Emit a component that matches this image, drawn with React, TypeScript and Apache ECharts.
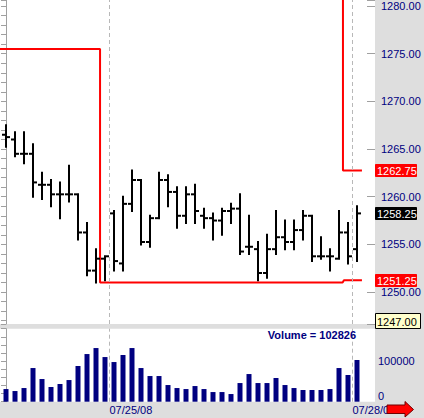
import React, { useEffect, useRef } from 'react';
import * as echarts from 'echarts';

// ---- data ----
const opens = [1266.5, 1266.0, 1264.5, 1264.5, 1261.25, 1261.25, 1260.25, 1260.25, 1260.25, 1256.25,
  1252.25, 1253.5, 1258.25, 1253.0, 1259.25, 1261.75, 1255.25, 1257.75, 1261.75, 1260.5,
  1258.0, 1260.25, 1258.0, 1257.75, 1257.5, 1258.5, 1258.75, 1254.75, 1254.5, 1252.0,
  1254.5, 1255.75, 1255.25, 1256.5, 1258.0, 1253.75, 1253.75, 1253.5, 1256.25, 1254.5];
const highs = [1267.5, 1266.75, 1266.75, 1265.5, 1262.5, 1261.75, 1261.5, 1263.25, 1260.25, 1257.25,
  1254.5, 1253.75, 1258.5, 1260.0, 1262.75, 1261.75, 1258.0, 1262.5, 1262.25, 1261.0,
  1261.0, 1261.25, 1258.75, 1258.25, 1258.75, 1259.25, 1260.25, 1258.0, 1255.25, 1256.0,
  1258.5, 1257.5, 1257.5, 1258.5, 1258.0, 1255.75, 1254.5, 1258.5, 1257.25, 1259.0];
const lows = [1265.25, 1264.25, 1263.5, 1260.0, 1259.75, 1259.0, 1257.75, 1259.5, 1255.5, 1251.75,
  1251.0, 1251.25, 1252.25, 1252.25, 1258.5, 1255.0, 1254.75, 1257.75, 1259.0, 1256.75,
  1257.25, 1257.25, 1256.75, 1255.5, 1256.0, 1257.25, 1254.0, 1254.0, 1251.25, 1251.5,
  1254.0, 1254.5, 1254.5, 1255.5, 1253.25, 1253.5, 1252.25, 1253.5, 1253.0, 1253.25];
const closes = [1266.25, 1264.5, 1264.5, 1261.5, 1261.25, 1260.25, 1260.25, 1260.25, 1256.25, 1252.25,
  1253.5, 1253.75, 1253.25, 1259.25, 1261.75, 1255.25, 1257.75, 1261.75, 1260.5, 1258.0,
  1260.25, 1258.5, 1257.75, 1257.5, 1258.5, 1258.75, 1254.25, 1254.75, 1252.0, 1254.5,
  1255.75, 1255.25, 1256.5, 1258.0, 1253.75, 1253.75, 1253.75, 1256.25, 1253.75, 1258.25];
const volumes = [31200, 26300, 33700, 83000, 55900, 36200, 43600, 53400, 88000, 117500,
  132300, 110100, 97800, 115100, 132300, 83000, 63300, 63300, 41100, 33700,
  31200, 38600, 31200, 23800, 23800, 18900, 46000, 68200, 46000, 46000,
  58400, 41100, 33700, 28800, 28800, 28800, 31200, 83000, 65800, 102826];

// stop lines (bar-index position, price)
const stopLowX = [-0.7, 10.45, 10.45, 37.4, 37.55, 39.55];
const stopLowY = [1275.5, 1275.5, 1251.0, 1251.0, 1251.25, 1251.25];
const stopHighX = [37.44, 37.44, 39.55];
const stopHighY = [1290, 1262.75, 1262.75];

const dateTickPos = [11.5, 38.5];
const dateTickLabels = ['07/25/08', '07/28/08'];

const upperStopValue = 1262.75;
const lowerStopValue = 1251.25;
const lastPriceValue = 1258.25;
const cursorPriceValue = 1247.0;
const lastVolume = 102826;

// ---- layout ----
const priceMin = 1246.65;
const priceMax = 1280.63;
const xMin = -2 / 3;
const xMax = 41;
const FONT = '"Liberation Sans", Arial, sans-serif';
const NAVY = '#000080';
const AXIS_GRAY = '#a0a0a0';

export default function App() {
  const ref = useRef<HTMLDivElement>(null);

  useEffect(() => {
    const chart = echarts.init(ref.current!, null, { renderer: 'svg' });
    const ohlc = opens.map((o, i) => [i, o, highs[i], lows[i], closes[i]]);
    const vol = volumes.map((v, i) => [i, v]);
    const dashed = {
      symbol: 'none',
      silent: true,
      label: { show: false },
      lineStyle: { color: '#b8b8b8', type: [4, 3], width: 1 },
      data: dateTickPos.map((p) => ({ xAxis: p })),
    };

    const option: any = {
      animation: false,
      backgroundColor: '#dedede',
      grid: [
        { left: 0, top: 0, width: 375, height: 324, show: true, backgroundColor: '#ffffff', borderWidth: 0 },
        { left: 0, top: 328.7, width: 375, height: 73, show: true, backgroundColor: '#ffffff', borderWidth: 0 },
      ],
      xAxis: [
        { type: 'value', gridIndex: 0, min: xMin, max: xMax, show: false },
        { type: 'value', gridIndex: 1, min: xMin, max: xMax, show: false },
      ],
      yAxis: [
        {
          type: 'value', gridIndex: 0, position: 'right', min: priceMin, max: priceMax, splitNumber: 34,
          axisLine: { show: true, lineStyle: { color: AXIS_GRAY } },
          axisTick: { show: true, inside: true, length: 5, lineStyle: { color: AXIS_GRAY } },
          axisLabel: {
            color: NAVY, fontFamily: FONT, fontSize: 11, margin: 6,
            formatter: (v: number) => (Math.abs(v % 5) < 1e-6 ? v.toFixed(2) : ''),
          },
          splitLine: { show: false },
        },
        {
          type: 'value', gridIndex: 0, position: 'right', min: priceMin, max: priceMax, splitNumber: 7,
          axisLine: { show: false },
          axisTick: { show: true, inside: true, length: 8, lineStyle: { color: AXIS_GRAY } },
          axisLabel: { show: false },
          splitLine: { show: false },
        },
        {
          type: 'value', gridIndex: 1, position: 'right', min: 0, max: 180000, interval: 20000,
          axisLine: { show: true, lineStyle: { color: AXIS_GRAY } },
          axisTick: { show: true, inside: true, length: 5, lineStyle: { color: AXIS_GRAY } },
          axisLabel: {
            color: NAVY, fontFamily: FONT, fontSize: 11, margin: 3,
            verticalAlignMinLabel: 'bottom',
            formatter: (v: number) => (v % 100000 === 0 ? String(v) : ''),
          },
          splitLine: { show: false },
        },
      ],
      series: [
        {
          type: 'custom', xAxisIndex: 0, yAxisIndex: 0, clip: true,
          encode: { x: 0, y: [1, 2, 3, 4] },
          data: ohlc,
          renderItem: (_p: any, api: any) => {
            const i = api.value(0);
            const o = api.coord([i, api.value(1)]);
            const h = api.coord([i, api.value(2)]);
            const l = api.coord([i, api.value(3)]);
            const c = api.coord([i, api.value(4)]);
            const x = Math.round(h[0]);
            const fill = { fill: '#000000' };
            return {
              type: 'group',
              children: [
                { type: 'rect', shape: { x: x - 1, y: h[1] - 1, width: 2, height: l[1] - h[1] + 2 }, style: fill },
                { type: 'rect', shape: { x: x - 4, y: o[1] - 1, width: 3, height: 2 }, style: fill },
                { type: 'rect', shape: { x: x + 1, y: c[1] - 1, width: 3, height: 2 }, style: fill },
              ],
            };
          },
        },
        {
          type: 'line', xAxisIndex: 0, yAxisIndex: 0, clip: true, showSymbol: false, symbol: 'none',
          lineStyle: { color: '#ff0000', width: 2 },
          data: stopLowX.map((x, i) => [x, stopLowY[i]]),
          markLine: dashed,
          z: 1,
        },
        {
          type: 'line', xAxisIndex: 0, yAxisIndex: 0, clip: true, showSymbol: false, symbol: 'none',
          lineStyle: { color: '#ff0000', width: 2 },
          data: stopHighX.map((x, i) => [x, stopHighY[i]]),
          z: 1,
        },
        {
          type: 'bar', xAxisIndex: 1, yAxisIndex: 2, barWidth: 5,
          itemStyle: { color: NAVY },
          data: vol,
          markLine: dashed,
        },
      ],
    };
    chart.setOption(option);

    const yOf = (v: number) => chart.convertToPixel({ yAxisIndex: 0 }, v) as number;
    const xOf = (v: number) => chart.convertToPixel({ xAxisIndex: 1 }, v) as number;

    const box = (value: number, bg: string, fg: string, w: number, h: number, stroke?: string) => {
      const y = yOf(value);
      return [
        {
          type: 'rect', z: 50,
          shape: { x: 375.5, y: Math.round(y - h / 2) + 0.5, width: w, height: h },
          style: { fill: bg, stroke: stroke || bg, lineWidth: 1 },
        },
        {
          type: 'text', z: 51, x: 377, y: Math.round(y) + 0.5,
          style: { text: value.toFixed(2), fill: fg, font: `11px ${FONT}`, verticalAlign: 'middle', align: 'left' },
        },
      ];
    };

    const graphics: any[] = [
      ...box(upperStopValue, '#ff0000', '#ffffff', 41, 12),
      ...box(lowerStopValue, '#ff0000', '#ffffff', 41, 12),
      ...box(lastPriceValue, '#000000', '#ffffff', 41, 12),
      ...box(cursorPriceValue, '#ffffcc', '#000000', 45, 15, '#000000'),
      ...dateTickPos.map((p, i) => ({
        type: 'text', z: 40, x: xOf(p), y: 404,
        style: { text: dateTickLabels[i], fill: NAVY, font: `11px ${FONT}`, verticalAlign: 'top', align: 'left' },
      })),
      {
        type: 'text', z: 40, x: 356, y: 334.5,
        style: { text: `Volume = ${lastVolume}`, fill: NAVY, font: `bold 11px ${FONT}`, verticalAlign: 'middle', align: 'right' },
      },
      {
        type: 'polygon', z: 60,
        shape: { points: [[387, 405], [405, 405], [405, 401.5], [413.5, 409.5], [405, 417], [405, 413.5], [387, 413.5]] },
        style: { fill: '#ff0000', stroke: '#700000', lineWidth: 1 },
      },
    ];
    chart.setOption({ graphic: graphics });

    return () => chart.dispose();
  }, []);

  return <div ref={ref} style={{ position: 'absolute', left: 0, top: 0, width: 424, height: 418 }} />;
}
